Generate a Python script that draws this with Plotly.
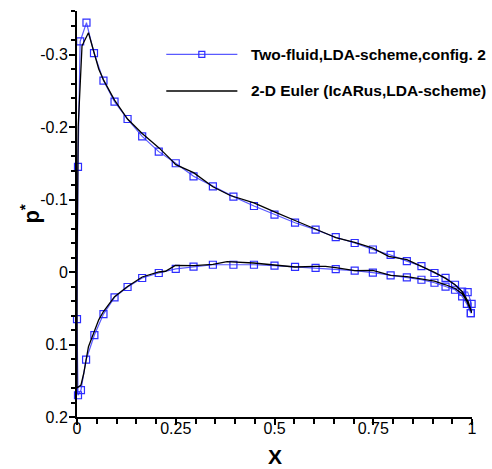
import plotly.graph_objects as go

# ---- Two-fluid, LDA-scheme, config. 2 (blue, markers) ----
tf_upper_x = [0.0025, 0.008, 0.024, 0.043, 0.067, 0.095, 0.128, 0.165, 0.207, 0.250,
              0.295, 0.344, 0.396, 0.448, 0.500, 0.552, 0.604, 0.655, 0.703, 0.749,
              0.794, 0.835, 0.872, 0.905, 0.933, 0.957, 0.975, 0.989, 0.999, 0.997]
tf_upper_y = [-0.145, -0.318, -0.344, -0.302, -0.264, -0.235, -0.211, -0.187, -0.166, -0.150,
              -0.132, -0.118, -0.104, -0.091, -0.079, -0.068, -0.0585, -0.048, -0.040, -0.031,
              -0.0235, -0.015, -0.008, 0.0014, 0.008, 0.0176, 0.027, 0.0277, 0.044, 0.0567]
tf_lower_x = [0.0, 0.0025, 0.010, 0.023, 0.044, 0.067, 0.095, 0.128, 0.165, 0.207,
              0.250, 0.295, 0.344, 0.396, 0.448, 0.500, 0.552, 0.604, 0.655, 0.703,
              0.749, 0.794, 0.835, 0.872, 0.905, 0.933, 0.957, 0.975, 0.987, 0.997]
tf_lower_y = [0.065, 0.170, 0.163, 0.121, 0.087, 0.058, 0.035, 0.0207, 0.0083, 0.0014,
              -0.0043, -0.0075, -0.010, -0.010, -0.010, -0.0087, -0.0071, -0.0058, -0.0041, -0.0018,
              0.001, 0.0047, 0.0074, 0.0107, 0.0148, 0.0203, 0.0245, 0.0337, 0.044, 0.0567]

# ---- 2-D Euler (IcARus, LDA-scheme) (black line) ----
eu_upper_x = [0.0, 0.003, 0.0127, 0.029, 0.043, 0.055, 0.067, 0.095, 0.128, 0.165,
              0.207, 0.236, 0.250, 0.295, 0.344, 0.388, 0.448, 0.500, 0.552, 0.604,
              0.641, 0.655, 0.703, 0.749, 0.789, 0.835, 0.872, 0.905, 0.933, 0.957,
              0.975, 0.990, 1.0]
eu_upper_y = [0.0, -0.20, -0.312, -0.330, -0.303, -0.280, -0.265, -0.237, -0.211, -0.191,
              -0.1715, -0.156, -0.148, -0.137, -0.1176, -0.1055, -0.0954, -0.083, -0.071, -0.0595,
              -0.0507, -0.0475, -0.041, -0.033, -0.0216, -0.017, -0.0078, 0.0005, 0.0088, 0.0176,
              0.0268, 0.0406, 0.0567]
eu_lower_x = [0.0, 0.010, 0.017, 0.029, 0.044, 0.055, 0.067, 0.095, 0.128, 0.165,
              0.207, 0.224, 0.249, 0.296, 0.344, 0.380, 0.447, 0.500, 0.552, 0.604,
              0.629, 0.655, 0.703, 0.749, 0.794, 0.835, 0.872, 0.905, 0.933, 0.957,
              0.975, 0.987, 1.0]
eu_lower_y = [0.160, 0.156, 0.140, 0.103, 0.082, 0.066, 0.0545, 0.034, 0.020, 0.0069,
              0.0, -0.001, -0.0092, -0.0087, -0.0106, -0.0142, -0.0124, -0.0101, -0.0069, -0.0078,
              -0.0078, -0.006, -0.0018, -0.0023, 0.0047, 0.0065, 0.0093, 0.0125, 0.0176, 0.0227,
              0.030, 0.0406, 0.0567]

x_tick_vals = [0, 0.25, 0.5, 0.75, 1]
x_tick_text = ["0", "0.25", "0.5", "0.75", "1"]
y_tick_vals = [-0.3, -0.2, -0.1, 0, 0.1, 0.2]
y_tick_text = ["-0.3", "-0.2", "-0.1", "0", "0.1", "0.2"]

legend_names = ["Two-fluid,LDA-scheme,config. 2", "2-D Euler (IcARus,LDA-scheme)"]

BLUE_LINE = "#5a5aff"
BLUE_MARK = "#2e2eff"
FONT = "Liberation Sans, Arial, sans-serif"

tf_x = tf_upper_x[::-1] + tf_lower_x
tf_y = tf_upper_y[::-1] + tf_lower_y
eu_x = eu_upper_x[::-1] + eu_lower_x
eu_y = eu_upper_y[::-1] + eu_lower_y

fig = go.Figure()
fig.add_trace(go.Scatter(
    x=tf_x, y=tf_y, mode="lines+markers", name=legend_names[0],
    line=dict(color=BLUE_LINE, width=1.2),
    marker=dict(symbol="square-open", size=7, color=BLUE_MARK, line=dict(width=1.2, color=BLUE_MARK)),
    cliponaxis=False, showlegend=False))
fig.add_trace(go.Scatter(
    x=eu_x, y=eu_y, mode="lines", name=legend_names[1],
    line=dict(color="black", width=1.3),
    cliponaxis=False, showlegend=False))

# Legend (drawn manually to match the long sample lines)
leg_x0, leg_x1, leg_xt = 0.226, 0.406, 0.436
leg_y = [0.893, 0.803]
shapes = []
annotations = []
for i, (name, yy) in enumerate(zip(legend_names, leg_y)):
    col = BLUE_LINE if i == 0 else "black"
    shapes.append(dict(type="line", xref="paper", yref="paper", x0=leg_x0, x1=leg_x1,
                       y0=yy, y1=yy, line=dict(color=col, width=1.3 if i else 1.2)))
    if i == 0:
        shapes.append(dict(type="rect", xref="paper", yref="paper",
                           xsizemode="pixel", ysizemode="pixel",
                           xanchor=(leg_x0 + leg_x1) / 2, yanchor=yy,
                           x0=-3, x1=3, y0=-3, y1=3,
                           line=dict(color=BLUE_MARK, width=1.2), fillcolor="rgba(0,0,0,0)"))
    annotations.append(dict(xref="paper", yref="paper", x=leg_xt, y=yy, xanchor="left",
                            yanchor="middle", showarrow=False, text="<b>%s</b>" % name,
                            font=dict(family=FONT, size=15.5, color="black")))

annotations.append(dict(xref="paper", yref="paper", x=-0.12, y=0.5, xanchor="center",
                        yanchor="middle", showarrow=False, textangle=-90,
                        text="<b>p<sup>*</sup></b>", font=dict(family=FONT, size=22, color="black")))
annotations.append(dict(xref="paper", yref="paper", x=0.5, y=-0.097, xanchor="center",
                        yanchor="middle", showarrow=False, text="<b>X</b>",
                        font=dict(family=FONT, size=21, color="black")))

fig.update_layout(
    width=492, height=469,
    margin=dict(l=77, r=20, t=11, b=52, pad=0),
    paper_bgcolor="white", plot_bgcolor="white",
    font=dict(family=FONT, size=16, color="black"),
    shapes=shapes, annotations=annotations,
    xaxis=dict(range=[0, 1], tickmode="array", tickvals=x_tick_vals, ticktext=x_tick_text,
               showgrid=False, zeroline=False, showline=True, linecolor="black", linewidth=2,
               ticks="outside", ticklen=6, tickwidth=1.5, tickcolor="black",
               ticklabelstandoff=-10,
               minor=dict(tickmode="linear", tick0=0, dtick=0.05, ticks="outside", ticklen=5,
                          tickwidth=1.5, tickcolor="black")),
    yaxis=dict(range=[0.2, -0.36], tickmode="array", tickvals=y_tick_vals, ticktext=y_tick_text,
               showgrid=False, zeroline=False, showline=True, linecolor="black", linewidth=2,
               ticks="outside", ticklen=6, tickwidth=1.5, tickcolor="black",
               ticklabelstandoff=-2,
               minor=dict(tickmode="linear", tick0=0, dtick=0.02, ticks="outside", ticklen=4,
                          tickwidth=1.5, tickcolor="black")),
)

fig.write_html("out.html")
